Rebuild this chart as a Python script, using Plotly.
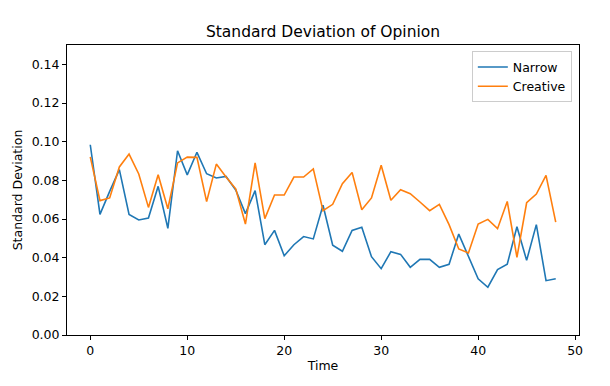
import plotly.graph_objects as go

time = list(range(49))
narrow = [0.0984, 0.0624, 0.0743, 0.0855, 0.0624, 0.0595, 0.0605, 0.0769, 0.0552, 0.0953,
          0.0828, 0.0945, 0.0834, 0.0812, 0.0820, 0.0750, 0.0628, 0.0747, 0.0467, 0.0541,
          0.0410, 0.0467, 0.0509, 0.0497, 0.0671, 0.0464, 0.0433, 0.0541, 0.0557, 0.0405,
          0.0343, 0.0431, 0.0417, 0.0350, 0.0391, 0.0391, 0.0350, 0.0366, 0.0522, 0.0407,
          0.0291, 0.0247, 0.0338, 0.0366, 0.0560, 0.0386, 0.0571, 0.0281, 0.0291]
creative = [0.0921, 0.0695, 0.0709, 0.0869, 0.0936, 0.0833, 0.0660, 0.0829, 0.0653, 0.0890,
            0.0920, 0.0919, 0.0690, 0.0884, 0.0817, 0.0756, 0.0574, 0.0890, 0.0602, 0.0724,
            0.0724, 0.0817, 0.0817, 0.0859, 0.0643, 0.0676, 0.0783, 0.0841, 0.0648, 0.0709,
            0.0878, 0.0697, 0.0751, 0.0731, 0.0688, 0.0643, 0.0676, 0.0571, 0.0445, 0.0424,
            0.0574, 0.0598, 0.0550, 0.0691, 0.0402, 0.0684, 0.0729, 0.0826, 0.0584]
x_ticks = [0, 10, 20, 30, 40, 50]
y_ticks = [0.00, 0.02, 0.04, 0.06, 0.08, 0.10, 0.12, 0.14]

FONT = "DejaVu Sans"

fig = go.Figure()
fig.add_trace(go.Scatter(x=time, y=narrow, mode="lines", name="Narrow",
                         line=dict(color="#1f77b4", width=1.6)))
fig.add_trace(go.Scatter(x=time, y=creative, mode="lines", name="Creative",
                         line=dict(color="#ff7f0e", width=1.6)))

axis_common = dict(showline=True, linecolor="black", linewidth=1, mirror=True,
                   ticks="outside", ticklen=4, tickcolor="black", tickwidth=1,
                   showgrid=False, zeroline=False,
                   tickfont=dict(family=FONT, size=12.5, color="black"))

fig.update_layout(
    width=610, height=386,
    margin=dict(l=67, r=31, t=45, b=51),
    paper_bgcolor="white", plot_bgcolor="white",
    font=dict(family=FONT, color="black"),
    title=dict(text="Standard Deviation of Opinion", x=0.5, xanchor="center",
               xref="paper", y=1 - 32 / 386, yanchor="middle",
               font=dict(family=FONT, size=15.5, color="black")),
    xaxis=dict(range=[-2.4, 50.4], tickvals=x_ticks, ticktext=[str(v) for v in x_ticks],
               title=dict(text="Time", font=dict(family=FONT, size=12.5), standoff=4),
               **axis_common),
    yaxis=dict(range=[0, 0.15], tickvals=y_ticks, ticktext=[f"{v:.2f}" for v in y_ticks],
               title=dict(text="Standard Deviation", font=dict(family=FONT, size=12.5), standoff=6),
               **axis_common),
    legend=dict(x=0.986, y=0.978, xanchor="right", yanchor="top",
                bordercolor="#cccccc", borderwidth=1, bgcolor="rgba(255,255,255,0.8)",
                font=dict(family=FONT, size=12.5, color="black"),
                itemwidth=30, tracegroupgap=0),
    showlegend=True,
)

fig.write_html("out.html",
               config={"displayModeBar": False},
               post_script="document.body.style.margin='0';document.body.style.padding='0';")
